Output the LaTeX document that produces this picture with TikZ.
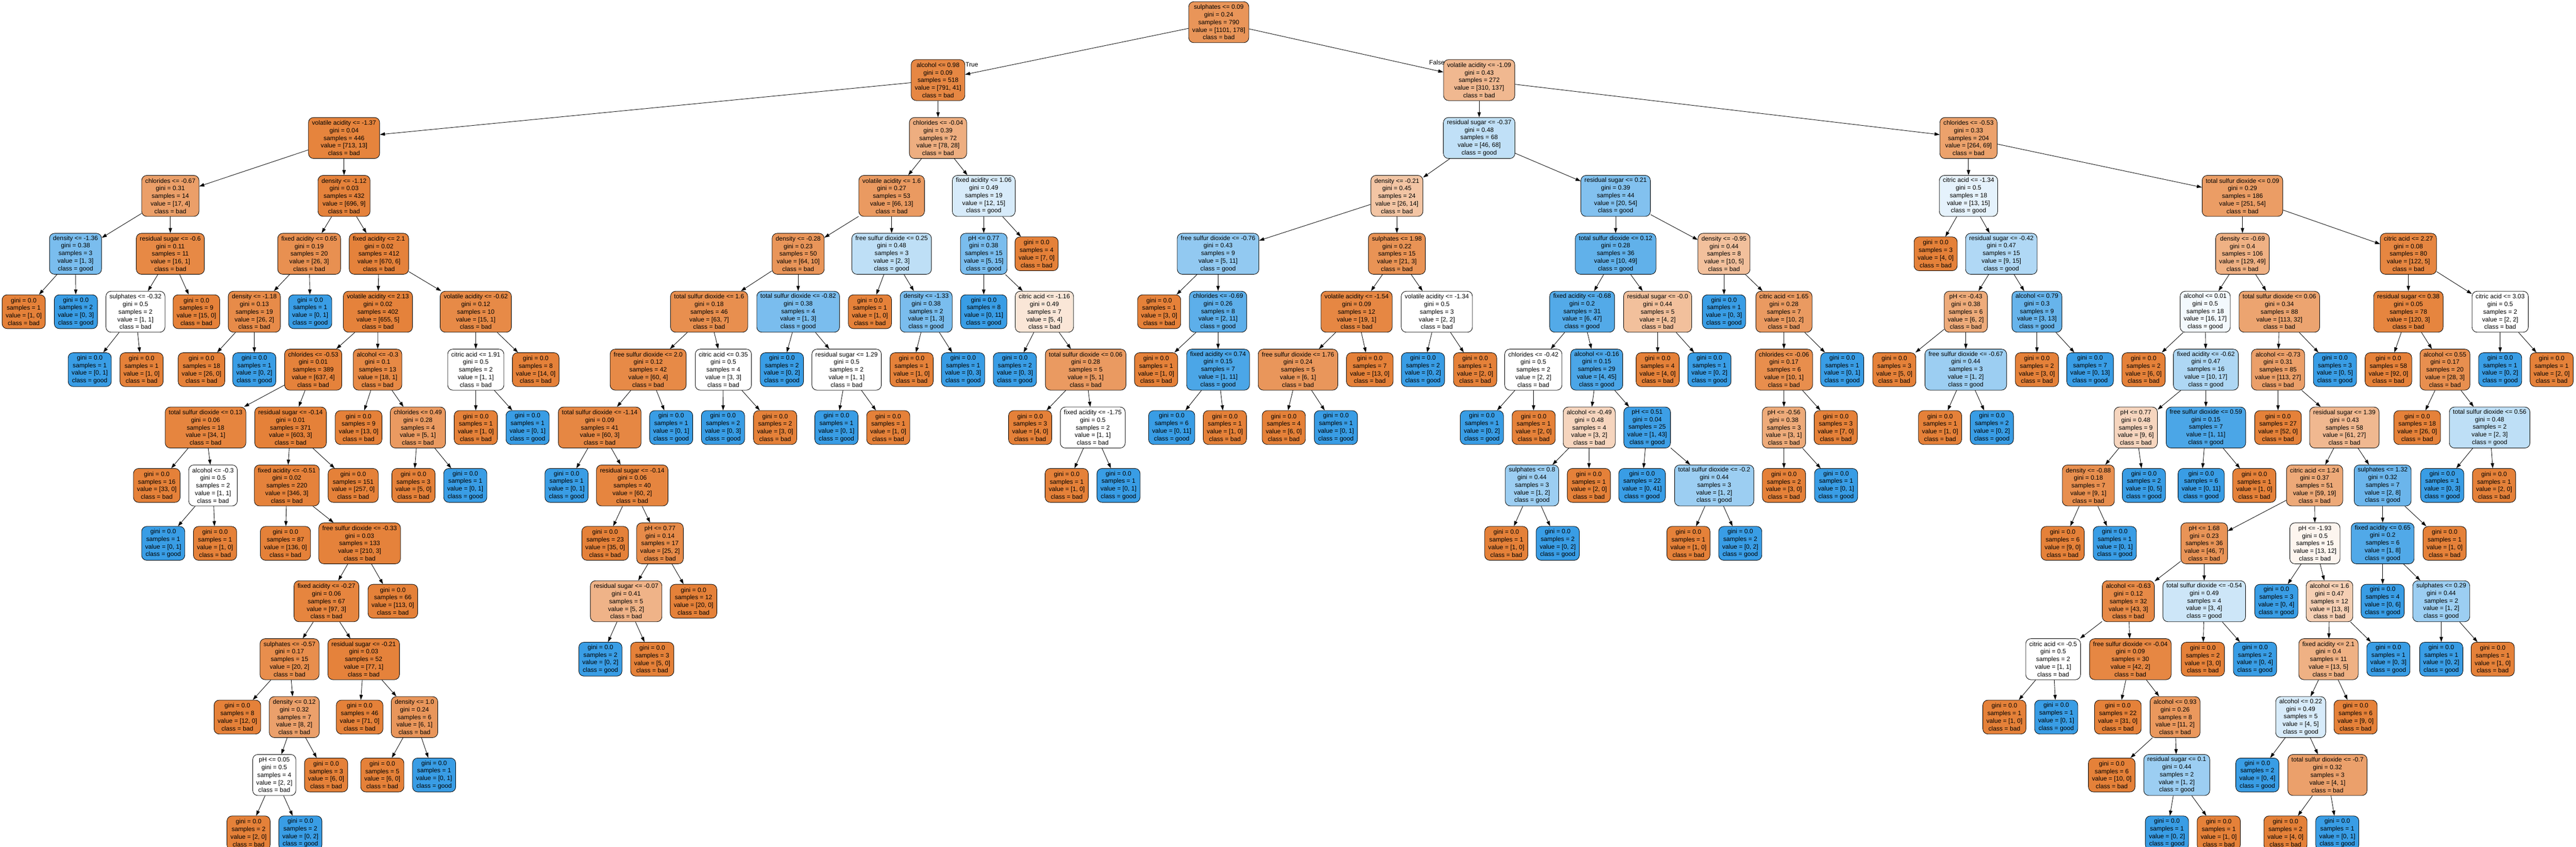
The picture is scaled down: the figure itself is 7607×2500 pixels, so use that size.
\documentclass[tikz,border=0pt]{standalone}
\usepackage{fontspec}
\setmainfont{Liberation Sans}
\usetikzlibrary{arrows.meta}
\definecolor{cbad}{RGB}{229,129,57}
\definecolor{cgood}{RGB}{57,157,229}
\tikzset{
 tnode/.style={draw=black, line width=1.3pt, rounded corners=15pt, align=center, inner xsep=10.5pt, inner ysep=0pt, font=\fontsize{18.5}{22.5}\selectfont},
 inode/.style={tnode, minimum height=121pt},
 lnode/.style={tnode, minimum height=100pt},
 tedge/.style={draw=black, line width=1.3pt, -{Triangle[length=15pt,width=10pt]}},
 elabel/.style={font=\fontsize{18.5}{22.5}\selectfont, inner sep=0pt}
}
% #1 name, #2 parent, #3 x, #4 level, #5 split (empty = leaf), #6 gini, #7 samples, #8 value bad, #9 value good
\newcommand\TN[9]{%
 \ifnum#8<#9\relax
   \pgfmathtruncatemacro\tnal{round((#9-#8)/#9*100)}\def\tncol{cgood}\def\tncls{good}%
 \else
   \pgfmathtruncatemacro\tnal{round((#8-#9)/#8*100)}\def\tncol{cbad}\def\tncls{bad}%
 \fi
 \if\relax\detokenize{#5}\relax
   \node[lnode, fill=\tncol!\tnal!white] (#1) at (#3,{65.5+171*#4}) {gini = #6\\samples = #7\\value = [#8, #9]\\class = \tncls};%
 \else
   \node[inode, fill=\tncol!\tnal!white] (#1) at (#3,{65.5+171*#4}) {#5\\gini = #6\\samples = #7\\value = [#8, #9]\\class = \tncls};%
 \fi
 \if\relax\detokenize{#2}\relax\else
   \draw[tedge] (#2) -- (#1);%
 \fi
}
\begin{document}
\begin{tikzpicture}[x=1pt,y=-1pt]
\useasboundingbox (0,0) rectangle (7607,2500);
\TN{r}{}{3599}{0}{sulphates <= 0.09}{0.24}{790}{1101}{178}
% ---------------- True branch
\TN{a}{r}{2770}{1}{alcohol <= 0.98}{0.09}{518}{791}{41}
\TN{aL}{a}{1016}{2}{volatile acidity <= -1.37}{0.04}{446}{713}{13}
\TN{aLL}{aL}{503}{3}{chlorides <= -0.67}{0.31}{14}{17}{4}
\TN{n1}{aLL}{223}{4}{density <= -1.36}{0.38}{3}{1}{3}
\TN{n1a}{n1}{70}{5}{}{0.0}{1}{1}{0}
\TN{n1b}{n1}{224}{5}{}{0.0}{2}{0}{3}
\TN{n2}{aLL}{503}{4}{residual sugar <= -0.6}{0.11}{11}{16}{1}
\TN{n2a}{n2}{400}{5}{sulphates <= -0.32}{0.5}{2}{1}{1}
\TN{n2aa}{n2a}{265}{6}{}{0.0}{1}{0}{1}
\TN{n2ab}{n2a}{418}{6}{}{0.0}{1}{1}{0}
\TN{n2b}{n2}{580}{5}{}{0.0}{9}{15}{0}
\TN{aLR}{aL}{1016}{3}{density <= -1.12}{0.03}{432}{696}{9}
\TN{n3}{aLR}{913}{4}{fixed acidity <= 0.65}{0.19}{20}{26}{3}
\TN{n3a}{n3}{751}{5}{density <= -1.18}{0.13}{19}{26}{2}
\TN{n3aa}{n3a}{595}{6}{}{0.0}{18}{26}{0}
\TN{n3ab}{n3a}{751}{6}{}{0.0}{1}{0}{2}
\TN{n3b}{n3}{916}{5}{}{0.0}{1}{0}{1}
\TN{n4}{aLR}{1119}{4}{fixed acidity <= 2.1}{0.02}{412}{670}{6}
\TN{n4a}{n4}{1116}{5}{volatile acidity <= 2.13}{0.02}{402}{655}{5}
\TN{n5}{n4a}{925}{6}{chlorides <= -0.53}{0.01}{389}{637}{4}
\TN{n5a}{n5}{607}{7}{total sulfur dioxide <= 0.13}{0.06}{18}{34}{1}
\TN{n5aa}{n5a}{463}{8}{}{0.0}{16}{33}{0}
\TN{n5ab}{n5a}{629}{8}{alcohol <= -0.3}{0.5}{2}{1}{1}
\TN{n5aba}{n5ab}{482}{9}{}{0.0}{1}{0}{1}
\TN{n5abb}{n5ab}{635}{9}{}{0.0}{1}{1}{0}
\TN{n5b}{n5}{858}{7}{residual sugar <= -0.14}{0.01}{371}{603}{3}
\TN{n6}{n5b}{847}{8}{fixed acidity <= -0.51}{0.02}{220}{346}{3}
\TN{n6a}{n6}{843}{9}{}{0.0}{87}{136}{0}
\TN{n6b}{n6}{1062}{9}{free sulfur dioxide <= -0.33}{0.03}{133}{210}{3}
\TN{n7}{n6b}{964}{10}{fixed acidity <= -0.27}{0.06}{67}{97}{3}
\TN{n7a}{n7}{855}{11}{sulphates <= -0.57}{0.17}{15}{20}{2}
\TN{n7aa}{n7a}{701}{12}{}{0.0}{8}{12}{0}
\TN{n7ab}{n7a}{869}{12}{density <= 0.12}{0.32}{7}{8}{2}
\TN{n7aba}{n7ab}{810}{13}{pH <= 0.05}{0.5}{4}{2}{2}
\TN{n7abaa}{n7aba}{734}{14}{}{0.0}{2}{2}{0}
\TN{n7abab}{n7aba}{887}{14}{}{0.0}{2}{0}{2}
\TN{n7abb}{n7ab}{963}{13}{}{0.0}{3}{6}{0}
\TN{n7b}{n7}{1074}{11}{residual sugar <= -0.21}{0.03}{52}{77}{1}
\TN{n7ba}{n7b}{1062}{12}{}{0.0}{46}{71}{0}
\TN{n7bb}{n7b}{1224}{12}{density <= 1.0}{0.24}{6}{6}{1}
\TN{n7bba}{n7bb}{1129}{13}{}{0.0}{5}{6}{0}
\TN{n7bbb}{n7bb}{1282}{13}{}{0.0}{1}{0}{1}
\TN{n6bb}{n6b}{1160}{10}{}{0.0}{66}{113}{0}
\TN{n5bb}{n5b}{1043}{8}{}{0.0}{151}{257}{0}
\TN{n8}{n4a}{1115}{6}{alcohol <= -0.3}{0.1}{13}{18}{1}
\TN{n8a}{n8}{1059}{7}{}{0.0}{9}{13}{0}
\TN{n8b}{n8}{1234}{7}{chlorides <= 0.49}{0.28}{4}{5}{1}
\TN{n8ba}{n8b}{1221}{8}{}{0.0}{3}{5}{0}
\TN{n8bb}{n8b}{1374}{8}{}{0.0}{1}{0}{1}
\TN{n4b}{n4}{1405}{5}{volatile acidity <= -0.62}{0.12}{10}{15}{1}
\TN{n4ba}{n4b}{1405}{6}{citric acid <= 1.91}{0.5}{2}{1}{1}
\TN{n4baa}{n4ba}{1405}{7}{}{0.0}{1}{1}{0}
\TN{n4bab}{n4ba}{1558}{7}{}{0.0}{1}{0}{1}
\TN{n4bb}{n4b}{1582}{6}{}{0.0}{8}{14}{0}
\TN{aR}{a}{2770}{2}{chlorides <= -0.04}{0.39}{72}{78}{28}
\TN{m1}{aR}{2633}{3}{volatile acidity <= 1.6}{0.27}{53}{66}{13}
\TN{m2}{m1}{2357}{4}{density <= -0.28}{0.23}{50}{64}{10}
\TN{m3}{m2}{2094}{5}{total sulfur dioxide <= 1.6}{0.18}{46}{63}{7}
\TN{m4}{m3}{1914}{6}{free sulfur dioxide <= 2.0}{0.12}{42}{60}{4}
\TN{m5}{m4}{1771}{7}{total sulfur dioxide <= -1.14}{0.09}{41}{60}{3}
\TN{m5a}{m5}{1673}{8}{}{0.0}{1}{0}{1}
\TN{m5b}{m5}{1867}{8}{residual sugar <= -0.14}{0.06}{40}{60}{2}
\TN{m5ba}{m5b}{1787}{9}{}{0.0}{23}{35}{0}
\TN{m5bb}{m5b}{1949}{9}{pH <= 0.77}{0.14}{17}{25}{2}
\TN{m5bba}{m5bb}{1849}{10}{residual sugar <= -0.07}{0.41}{5}{5}{2}
\TN{m5bbaa}{m5bba}{1773}{11}{}{0.0}{2}{0}{2}
\TN{m5bbab}{m5bba}{1926}{11}{}{0.0}{3}{5}{0}
\TN{m5bbb}{m5bb}{2048}{10}{}{0.0}{12}{20}{0}
\TN{m4b}{m4}{1982}{7}{}{0.0}{1}{0}{1}
\TN{m3b}{m3}{2136}{6}{citric acid <= 0.35}{0.5}{4}{3}{3}
\TN{m3ba}{m3b}{2135}{7}{}{0.0}{2}{0}{3}
\TN{m3bb}{m3b}{2289}{7}{}{0.0}{2}{3}{0}
\TN{m2b}{m2}{2357}{5}{total sulfur dioxide <= -0.82}{0.38}{4}{1}{3}
\TN{m2ba}{m2b}{2309}{6}{}{0.0}{2}{0}{2}
\TN{m2bb}{m2b}{2500}{6}{residual sugar <= 1.29}{0.5}{2}{1}{1}
\TN{m2bba}{m2bb}{2470}{7}{}{0.0}{1}{0}{1}
\TN{m2bbb}{m2bb}{2623}{7}{}{0.0}{1}{1}{0}
\TN{m6}{m1}{2633}{4}{free sulfur dioxide <= 0.25}{0.48}{3}{2}{3}
\TN{m6a}{m6}{2569}{5}{}{0.0}{1}{1}{0}
\TN{m6b}{m6}{2735}{5}{density <= -1.33}{0.38}{2}{1}{3}
\TN{m6ba}{m6b}{2692}{6}{}{0.0}{1}{1}{0}
\TN{m6bb}{m6b}{2844}{6}{}{0.0}{1}{0}{3}
\TN{m7}{aR}{2905}{3}{fixed acidity <= 1.06}{0.49}{19}{12}{15}
\TN{m8}{m7}{2905}{4}{pH <= 0.77}{0.38}{15}{5}{15}
\TN{m8a}{m8}{2905}{5}{}{0.0}{8}{0}{11}
\TN{m8b}{m8}{3084}{5}{citric acid <= -1.16}{0.49}{7}{5}{4}
\TN{m8ba}{m8b}{2997}{6}{}{0.0}{2}{0}{3}
\TN{m8bb}{m8b}{3206}{6}{total sulfur dioxide <= 0.06}{0.28}{5}{5}{1}
\TN{m8bba}{m8bb}{3042}{7}{}{0.0}{3}{4}{0}
\TN{m8bbb}{m8bb}{3227}{7}{fixed acidity <= -1.75}{0.5}{2}{1}{1}
\TN{m8bbba}{m8bbb}{3150}{8}{}{0.0}{1}{1}{0}
\TN{m8bbbb}{m8bbb}{3303}{8}{}{0.0}{1}{0}{1}
\TN{m7b}{m7}{3061}{4}{}{0.0}{4}{7}{0}
% ---------------- False branch
\TN{b}{r}{4368}{1}{volatile acidity <= -1.09}{0.43}{272}{310}{137}
\TN{bL}{b}{4368}{2}{residual sugar <= -0.37}{0.48}{68}{46}{68}
\TN{p1}{bL}{4125}{3}{density <= -0.21}{0.45}{24}{26}{14}
\TN{p2}{p1}{3597}{4}{free sulfur dioxide <= -0.76}{0.43}{9}{5}{11}
\TN{p2a}{p2}{3423}{5}{}{0.0}{1}{3}{0}
\TN{p2b}{p2}{3597}{5}{chlorides <= -0.69}{0.26}{8}{2}{11}
\TN{p2ba}{p2b}{3414}{6}{}{0.0}{1}{1}{0}
\TN{p2bb}{p2b}{3597}{6}{fixed acidity <= 0.74}{0.15}{7}{1}{11}
\TN{p2bba}{p2bb}{3460}{7}{}{0.0}{6}{0}{11}
\TN{p2bbb}{p2bb}{3617}{7}{}{0.0}{1}{1}{0}
\TN{p3}{p1}{4125}{4}{sulphates <= 1.98}{0.22}{15}{21}{3}
\TN{p3a}{p3}{4006}{5}{volatile acidity <= -1.54}{0.09}{12}{19}{1}
\TN{p3aa}{p3a}{3833}{6}{free sulfur dioxide <= 1.76}{0.24}{5}{6}{1}
\TN{p3aaa}{p3aa}{3791}{7}{}{0.0}{4}{6}{0}
\TN{p3aab}{p3aa}{3945}{7}{}{0.0}{1}{0}{1}
\TN{p3ab}{p3a}{4045}{6}{}{0.0}{7}{13}{0}
\TN{p3b}{p3}{4243}{5}{volatile acidity <= -1.34}{0.5}{3}{2}{2}
\TN{p3ba}{p3b}{4202}{6}{}{0.0}{2}{0}{2}
\TN{p3bb}{p3b}{4356}{6}{}{0.0}{1}{2}{0}
\TN{q1}{bL}{4771}{3}{residual sugar <= 0.21}{0.39}{44}{20}{54}
\TN{q2}{q1}{4771}{4}{total sulfur dioxide <= 0.12}{0.28}{36}{10}{49}
\TN{q3}{q2}{4672}{5}{fixed acidity <= -0.68}{0.2}{31}{6}{47}
\TN{q4}{q3}{4528}{6}{chlorides <= -0.42}{0.5}{2}{2}{2}
\TN{q4a}{q4}{4376}{7}{}{0.0}{1}{0}{2}
\TN{q4b}{q4}{4529}{7}{}{0.0}{1}{2}{0}
\TN{q5}{q3}{4715}{6}{alcohol <= -0.16}{0.15}{29}{4}{45}
\TN{q6}{q5}{4693}{7}{alcohol <= -0.49}{0.48}{4}{3}{2}
\TN{q6a}{q6}{4524}{8}{sulphates <= 0.8}{0.44}{3}{1}{2}
\TN{q6aa}{q6a}{4448}{9}{}{0.0}{1}{1}{0}
\TN{q6ab}{q6a}{4600}{9}{}{0.0}{2}{0}{2}
\TN{q6b}{q6}{4692}{8}{}{0.0}{1}{2}{0}
\TN{q7}{q5}{4864}{7}{pH <= 0.51}{0.04}{25}{1}{43}
\TN{q7a}{q7}{4849}{8}{}{0.0}{22}{0}{41}
\TN{q7b}{q7}{5062}{8}{total sulfur dioxide <= -0.2}{0.44}{3}{1}{2}
\TN{q7ba}{q7b}{4986}{9}{}{0.0}{1}{1}{0}
\TN{q7bb}{q7b}{5139}{9}{}{0.0}{2}{0}{2}
\TN{q8}{q2}{4895}{5}{residual sugar <= -0.0}{0.44}{5}{4}{2}
\TN{q8a}{q8}{4895}{6}{}{0.0}{4}{4}{0}
\TN{q8b}{q8}{5048}{6}{}{0.0}{1}{0}{2}
\TN{q9}{q1}{5091}{4}{density <= -0.95}{0.44}{8}{10}{5}
\TN{q9a}{q9}{5091}{5}{}{0.0}{1}{0}{3}
\TN{q9b}{q9}{5268}{5}{citric acid <= 1.65}{0.28}{7}{10}{2}
\TN{q10}{q9b}{5268}{6}{chlorides <= -0.06}{0.17}{6}{10}{1}
\TN{q11}{q10}{5268}{7}{pH <= -0.56}{0.38}{3}{3}{1}
\TN{q11a}{q11}{5268}{8}{}{0.0}{2}{3}{0}
\TN{q11b}{q11}{5422}{8}{}{0.0}{1}{0}{1}
\TN{q10b}{q10}{5421}{7}{}{0.0}{3}{7}{0}
\TN{q9bb}{q9b}{5440}{6}{}{0.0}{1}{0}{1}
\TN{bR}{b}{5813}{2}{chlorides <= -0.53}{0.33}{204}{264}{69}
\TN{s1}{bR}{5813}{3}{citric acid <= -1.34}{0.5}{18}{13}{15}
\TN{s1a}{s1}{5716}{4}{}{0.0}{3}{4}{0}
\TN{s2}{s1}{5910}{4}{residual sugar <= -0.42}{0.47}{15}{9}{15}
\TN{s3}{s2}{5805}{5}{pH <= -0.43}{0.38}{6}{6}{2}
\TN{s3a}{s3}{5594}{6}{}{0.0}{3}{5}{0}
\TN{s3b}{s3}{5805}{6}{free sulfur dioxide <= -0.67}{0.44}{3}{1}{2}
\TN{s3ba}{s3b}{5729}{7}{}{0.0}{1}{1}{0}
\TN{s3bb}{s3b}{5882}{7}{}{0.0}{2}{0}{2}
\TN{s4}{s2}{6015}{5}{alcohol <= 0.79}{0.3}{9}{3}{13}
\TN{s4a}{s4}{6015}{6}{}{0.0}{2}{3}{0}
\TN{s4b}{s4}{6172}{6}{}{0.0}{7}{0}{13}
\TN{t1}{bR}{6622}{3}{total sulfur dioxide <= 0.09}{0.29}{186}{251}{54}
\TN{t2}{t1}{6622}{4}{density <= -0.69}{0.4}{106}{129}{49}
\TN{t3}{t2}{6512}{5}{alcohol <= 0.01}{0.5}{18}{16}{17}
\TN{t3a}{t3}{6330}{6}{}{0.0}{2}{6}{0}
\TN{t4}{t3}{6514}{6}{fixed acidity <= -0.62}{0.47}{16}{10}{17}
\TN{t5}{t4}{6307}{7}{pH <= 0.77}{0.48}{9}{9}{6}
\TN{t6}{t5}{6167}{8}{density <= -0.88}{0.18}{7}{9}{1}
\TN{t6a}{t6}{6091}{9}{}{0.0}{6}{9}{0}
\TN{t6b}{t6}{6245}{9}{}{0.0}{1}{0}{1}
\TN{t5b}{t5}{6331}{8}{}{0.0}{2}{0}{5}
\TN{t7}{t4}{6514}{7}{free sulfur dioxide <= 0.59}{0.15}{7}{1}{11}
\TN{t7a}{t7}{6500}{8}{}{0.0}{6}{0}{11}
\TN{t7b}{t7}{6657}{8}{}{0.0}{1}{1}{0}
\TN{u1}{t2}{6731}{5}{total sulfur dioxide <= 0.06}{0.34}{88}{113}{32}
\TN{u2}{u1}{6727}{6}{alcohol <= -0.73}{0.31}{85}{113}{27}
\TN{u2a}{u2}{6727}{7}{}{0.0}{27}{52}{0}
\TN{u3}{u2}{6923}{7}{residual sugar <= 1.39}{0.43}{58}{61}{27}
\TN{u4}{u3}{6835}{8}{citric acid <= 1.24}{0.37}{51}{59}{19}
\TN{u5}{u4}{6509}{9}{pH <= 1.68}{0.23}{36}{46}{7}
\TN{u6}{u5}{6285}{10}{alcohol <= -0.63}{0.12}{32}{43}{3}
\TN{u7}{u6}{6063}{11}{citric acid <= -0.5}{0.5}{2}{1}{1}
\TN{u7a}{u7}{5919}{12}{}{0.0}{1}{1}{0}
\TN{u7b}{u7}{6072}{12}{}{0.0}{1}{0}{1}
\TN{u8}{u6}{6291}{11}{free sulfur dioxide <= -0.04}{0.09}{30}{42}{2}
\TN{u8a}{u8}{6254}{12}{}{0.0}{22}{31}{0}
\TN{u9}{u8}{6423}{12}{alcohol <= 0.93}{0.26}{8}{11}{2}
\TN{u9a}{u9}{6236}{13}{}{0.0}{6}{10}{0}
\TN{u10}{u9}{6428}{13}{residual sugar <= 0.1}{0.44}{2}{1}{2}
\TN{u10a}{u10}{6399}{14}{}{0.0}{1}{0}{2}
\TN{u10b}{u10}{6552}{14}{}{0.0}{1}{1}{0}
\TN{u11}{u5}{6509}{10}{total sulfur dioxide <= -0.54}{0.49}{4}{3}{4}
\TN{u11a}{u11}{6505}{11}{}{0.0}{2}{3}{0}
\TN{u11b}{u11}{6659}{11}{}{0.0}{2}{0}{4}
\TN{u12}{u4}{6836}{9}{pH <= -1.93}{0.5}{15}{13}{12}
\TN{u12a}{u12}{6722}{10}{}{0.0}{3}{0}{4}
\TN{u13}{u12}{6879}{10}{alcohol <= 1.6}{0.47}{12}{13}{8}
\TN{u14}{u13}{6876}{11}{fixed acidity <= 2.1}{0.4}{11}{13}{5}
\TN{u15}{u14}{6794}{12}{alcohol <= 0.22}{0.49}{5}{4}{5}
\TN{u15a}{u15}{6666}{13}{}{0.0}{2}{0}{4}
\TN{u16}{u15}{6873}{13}{total sulfur dioxide <= -0.7}{0.32}{3}{4}{1}
\TN{u16a}{u16}{6749}{14}{}{0.0}{2}{4}{0}
\TN{u16b}{u16}{6902}{14}{}{0.0}{1}{0}{1}
\TN{u14b}{u14}{6956}{12}{}{0.0}{6}{9}{0}
\TN{u13b}{u13}{7053}{11}{}{0.0}{1}{0}{3}
\TN{u17}{u3}{7036}{8}{sulphates <= 1.32}{0.32}{7}{2}{8}
\TN{u18}{u17}{7036}{9}{fixed acidity <= 0.65}{0.2}{6}{1}{8}
\TN{u18a}{u18}{7036}{10}{}{0.0}{4}{0}{6}
\TN{u19}{u18}{7209}{10}{sulphates <= 0.29}{0.44}{2}{1}{2}
\TN{u19a}{u19}{7209}{11}{}{0.0}{1}{0}{2}
\TN{u19b}{u19}{7361}{11}{}{0.0}{1}{1}{0}
\TN{u17b}{u17}{7219}{9}{}{0.0}{1}{1}{0}
\TN{u1b}{u1}{6895}{6}{}{0.0}{3}{0}{5}
\TN{v1}{t1}{7112}{4}{citric acid <= 2.27}{0.08}{80}{122}{5}
\TN{v2}{v1}{7112}{5}{residual sugar <= 0.38}{0.05}{78}{120}{3}
\TN{v2a}{v2}{7053}{6}{}{0.0}{58}{92}{0}
\TN{v3}{v2}{7220}{6}{alcohol <= 0.55}{0.17}{20}{28}{3}
\TN{v3a}{v3}{7138}{7}{}{0.0}{18}{26}{0}
\TN{v4}{v3}{7352}{7}{total sulfur dioxide <= 0.56}{0.48}{2}{2}{3}
\TN{v4a}{v4}{7212}{8}{}{0.0}{1}{0}{3}
\TN{v4b}{v4}{7365}{8}{}{0.0}{1}{2}{0}
\TN{v5}{v1}{7383}{5}{citric acid <= 3.03}{0.5}{2}{2}{2}
\TN{v5a}{v5}{7383}{6}{}{0.0}{1}{0}{2}
\TN{v5b}{v5}{7535}{6}{}{0.0}{1}{2}{0}
% edge labels
\node[elabel, anchor=west] (truelab) at (2851,191) {True};
\node[elabel, anchor=east] (falselab) at (4266,185) {False};
\end{tikzpicture}
\end{document}
